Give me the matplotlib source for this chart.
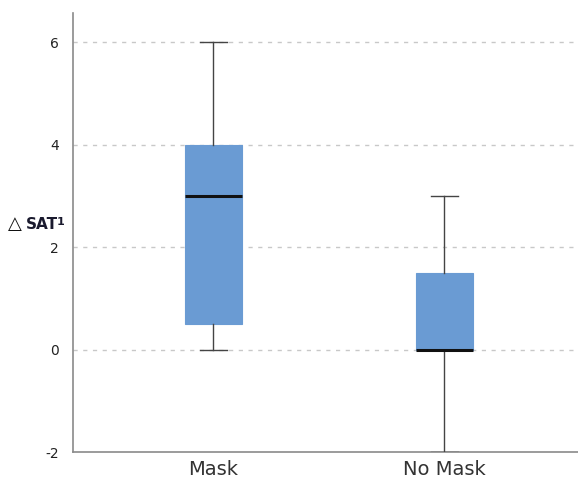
import matplotlib
matplotlib.use("Agg")
import matplotlib.pyplot as plt

groups = ['Mask', 'No Mask']
whisker_low = [0, -2]
q1 = [0.5, 0]
median = [3, 0]
q3 = [4, 1.5]
whisker_high = [6, 3]
yticks = [-2, 0, 2, 4, 6]

stats = []
for i, g in enumerate(groups):
    stats.append({'label': g, 'whislo': whisker_low[i], 'q1': q1[i], 'med': median[i],
                  'q3': q3[i], 'whishi': whisker_high[i], 'fliers': []})

fig = plt.figure(figsize=(5.78, 4.83), dpi=100)
ax = fig.add_axes([73/578, 31/483, 1 - 73/578, (452-13)/483])

ax.bxp(stats, positions=[1, 2], widths=0.247, patch_artist=True, showfliers=False,
       boxprops=dict(facecolor='#6a9bd3', edgecolor='#6a9bd3', linewidth=0.8),
       medianprops=dict(color='#111111', linewidth=2.2),
       whiskerprops=dict(color='#444444', linewidth=1),
       capprops=dict(color='#444444', linewidth=1),
       capwidths=0.12, zorder=3)

ax.set_xlim(0.392, 2.578)
ax.set_ylim(-2, 6.57)
ax.set_yticks(yticks)
ax.set_yticklabels([str(t) for t in yticks], fontsize=10, color='#222222')
ax.set_xticks([1, 2])
ax.set_xticklabels(groups, fontsize=14, color='#333333')
ax.tick_params(axis='both', length=0)
ax.tick_params(axis='y', pad=10)
ax.tick_params(axis='x', pad=6)

for t in [0, 2, 4, 6]:
    ax.axhline(t, color='#c8c8c8', linestyle=(0, (3, 4)), linewidth=1, zorder=1)

for s in ['top', 'right']:
    ax.spines[s].set_visible(False)
ax.spines['left'].set_color('#8a8a8a')
ax.spines['bottom'].set_color('#8a8a8a')
ax.spines['left'].set_linewidth(1.2)
ax.spines['bottom'].set_linewidth(1.2)

# y label: triangle + SAT + small 1
fig.text(8/578, 1 - 224/483, '△', fontsize=13, va='center', ha='left', color='#111111')
fig.text(26/578, 1 - 224/483, 'SAT', fontsize=11, fontweight='bold', va='center', ha='left', color='#1a1a2e')
fig.text(57/578, 1 - 222/483, '1', fontsize=8, fontweight='bold', va='center', ha='left', color='#1a1a2e')

fig.savefig('out.png', dpi=100)
